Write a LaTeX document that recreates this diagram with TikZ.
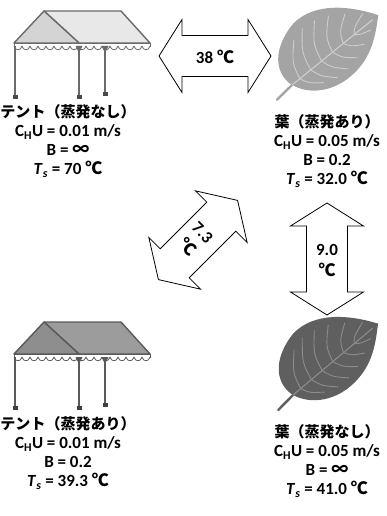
\documentclass[tikz,border=0pt]{standalone}
\usepackage{fontspec}
\setmainfont{Carlito}
\newfontfamily\cjk{Noto Sans CJK JP}
\usepackage{tikz}
\usetikzlibrary{positioning}

\definecolor{tentlineA}{HTML}{6A6A6A}
\definecolor{tentfrontA}{HTML}{D4D4D4}
\definecolor{tentsideA}{HTML}{E8E8E8}
\definecolor{tentlineB}{HTML}{5A5A5A}
\definecolor{tentfrontB}{HTML}{8E8E8E}
\definecolor{tentsideB}{HTML}{9C9C9C}
\definecolor{leafA}{HTML}{A4A4A4}
\definecolor{veinA}{HTML}{CDCDCD}
\definecolor{leafB}{HTML}{5F5F5F}
\definecolor{veinB}{HTML}{8C8C8C}

% japanese title line of each label
\newcommand\ttl[1]{{\cjk\fontsize{15}{19}\selectfont #1}}

\tikzset{
  lbl/.style={align=center, inner sep=0pt, font=\bfseries\fontsize{17}{19}\selectfont},
  arrtxt/.style={align=center, inner sep=0pt, font=\bfseries\fontsize{17}{21}\selectfont},
  arrowbox/.style={draw=black, fill=white, line width=0.8, line join=miter},
  % tent: front gable, side roof, line colour
  pics/tent/.style n args={3}{code={
    \filldraw[fill=#2, draw=#3, line width=1.4, line join=round]
      (44,11) -- (121,11) -- (150,43) -- (79,43) -- cycle;
    \filldraw[fill=#1, draw=#3, line width=1.4, line join=round]
      (44,11) -- (14,43) -- (79,43) -- cycle;
    % valance
    \filldraw[fill=white, draw=#3, line width=0.8] (14,43) rectangle (150,46);
    \foreach \k in {0,...,16}
      \filldraw[fill=white, draw=#3, line width=0.8]
        (14+8*\k,46) .. controls (15+8*\k,51) and (21+8*\k,51) .. (22+8*\k,46);
    % poles
    \foreach \x/\y in {15/98, 79/98, 105/95} {
      \draw[#3, line width=2.8] (\x,46) -- (\x,\y);
      \fill[#3!70!black] (\x-2.5,\y-3) rectangle (\x+2.5,\y+1);
    }
    \foreach \x in {79,105}
      \fill[#3] (\x-3.5,46) -- (\x+3.5,46) -- (\x,53) -- cycle;
  }},
  % leaf: blade colour, vein colour
  pics/leaf/.style 2 args={code={
    \draw[#1, line width=2.4, line cap=round] (0,0) -- (-21,2);
    \fill[#1] (0,0) .. controls (-6,-18) and (5,-40) .. (40,-47)
      .. controls (70,-50) and (95,-25) .. (111,0)
      .. controls (95,15) and (80,28) .. (55,30)
      .. controls (30,32) and (8,20) .. (0,0) -- cycle;
    \draw[#2, line width=1.1] (0,0) -- (104,0);
    \foreach \u/\p/\q in {10/-34/18, 24/-38/23, 38/-36/23, 52/-31/20, 66/-22/14, 80/-11/7} {
      \draw[#2, line width=0.9] (\u,0) .. controls (\u+4,\p*0.5) .. (\u+20,\p);
      \draw[#2, line width=0.9] (\u,0) .. controls (\u+4,\q*0.5) .. (\u+16,\q);
    }
  }},
  pics/dblarrow/.style={code={
    \draw[arrowbox] (-56,0) -- (-33,-36.5) -- (-33,-20.5) -- (33,-20.5) -- (33,-36.5)
      -- (56,0) -- (33,36.5) -- (33,20.5) -- (-33,20.5) -- (-33,36.5) -- cycle;
  }}
}

\begin{document}
\begin{tikzpicture}[x=1pt, y=-1pt]
  \useasboundingbox (0,0) rectangle (386,516);

  % tents and leaves
  \pic at (0,0) {tent={tentfrontA}{tentsideA}{tentlineA}};
  \pic at (0,311) {tent={tentfrontB}{tentsideB}{tentlineB}};
  \pic[rotate=39] at (292,85) {leaf={leafA}{veinA}};
  \pic[rotate=40] at (293,395) {leaf={leafB}{veinB}};

  % comparison arrows
  \pic at (215,56) {dblarrow};
  \pic[rotate=90] at (327,259) {dblarrow};
  \pic[rotate=45] at (198,240) {dblarrow};
  \node[arrtxt] (d38) at (215,57) {38 {\cjk ℃}};
  \node[arrtxt] (d90) at (327,261) {9.0\\{\cjk ℃}};
  \node[arrtxt, rotate=-45] (d73) at (195,240) {7.3\\{\cjk ℃}};

  % labels
  \node[lbl] (tentA) at (68,141)
    {\ttl{テント（蒸発なし）}\\C\textsubscript{H}U = 0.01 m/s\\B = {\cjk ∞}\\\textit{T}\textsubscript{\textit{s}} = 70 {\cjk ℃}};
  \node[lbl] (leafA) at (327,151)
    {\ttl{葉（蒸発あり）}\\C\textsubscript{H}U = 0.05 m/s\\B = 0.2\\\textit{T}\textsubscript{\textit{s}} = 32.0 {\cjk ℃}};
  \node[lbl] (tentB) at (68,453)
    {\ttl{テント（蒸発あり）}\\C\textsubscript{H}U = 0.01 m/s\\B = 0.2\\\textit{T}\textsubscript{\textit{s}} = 39.3 {\cjk ℃}};
  \node[lbl] (leafB) at (327,461)
    {\ttl{葉（蒸発なし）}\\C\textsubscript{H}U = 0.05 m/s\\B = {\cjk ∞}\\\textit{T}\textsubscript{\textit{s}} = 41.0 {\cjk ℃}};
\end{tikzpicture}
\end{document}
